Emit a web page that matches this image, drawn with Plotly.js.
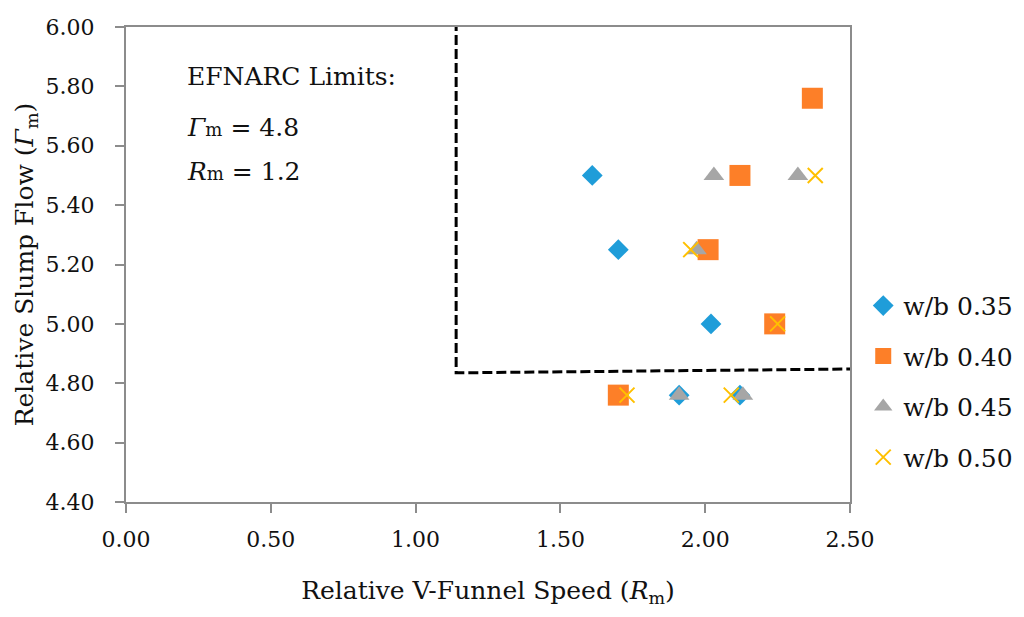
<!DOCTYPE html>
<html>
<head>
<meta charset="utf-8">
<script src="https://cdn.plot.ly/plotly-3.0.1.min.js"></script>
<style>
  html, body { margin: 0; padding: 0; background: #fff; }
  #chart { width: 1024px; height: 617px; }
</style>
</head>
<body>
<div id="chart"></div>
<script>
// relative V-funnel speed (Rm) and relative slump flow (Γm) per w/b ratio
var seriesNames = ['w/b 0.35', 'w/b 0.40', 'w/b 0.45', 'w/b 0.50'];

var rm035 = [1.61, 1.70, 2.02, 1.91, 2.12];
var gm035 = [5.50, 5.25, 5.00, 4.76, 4.76];

var rm040 = [2.37, 2.12, 2.01, 2.24, 1.70];
var gm040 = [5.76, 5.50, 5.25, 5.00, 4.76];

var rm045 = [2.03, 2.32, 1.97, 1.91, 2.13];
var gm045 = [5.50, 5.50, 5.25, 4.76, 4.76];

var rm050 = [2.38, 1.95, 2.25, 1.73, 2.09];
var gm050 = [5.50, 5.25, 5.00, 4.76, 4.76];

// EFNARC limit line (dashed)
var limitX = [1.14, 1.14, 2.51];
var limitY = [6.02, 4.835, 4.848];

var xTicks = [0, 0.5, 1.0, 1.5, 2.0, 2.5];
var yTicks = [4.4, 4.6, 4.8, 5.0, 5.2, 5.4, 5.6, 5.8, 6.0];

var serif = 'DejaVu Serif, serif';
var fs = 25;      // titles, notes, legend
var tickFs = 22;  // tick labels

var limitLine = {
  type: 'scatter', mode: 'lines',
  x: limitX, y: limitY,
  line: {color: '#000', width: 3, dash: '10px,4px'},
  showlegend: false, hoverinfo: 'skip', cliponaxis: false
};

var data = [
  limitLine,
  {type: 'scatter', mode: 'markers', name: seriesNames[0], legendgroup: 'a', x: rm035, y: gm035,
   marker: {symbol: 'diamond', size: 16, color: '#1f9dd9'}},
  {type: 'scatter', mode: 'markers', name: seriesNames[1], legendgroup: 'b', x: rm040, y: gm040,
   marker: {symbol: 'square', size: 21, color: '#fd7f28'}},
  {type: 'scatter', mode: 'markers', name: seriesNames[2], legendgroup: 'c', x: rm045, y: gm045,
   marker: {symbol: 'triangle-up', size: 18, color: '#a6a6a6'}},
  {type: 'scatter', mode: 'markers', name: seriesNames[3], legendgroup: 'd', x: rm050, y: gm050,
   marker: {symbol: 'x-thin-open', size: 15, color: '#ffc000', line: {color: '#ffc000', width: 2}}}
];

var axisStyle = {
  showgrid: false, zeroline: false,
  showline: true, linecolor: '#8c8c8c', linewidth: 2, mirror: true,
  ticks: 'outside', ticklen: 9, tickcolor: '#8c8c8c', tickwidth: 2,
  tickfont: {family: serif, size: tickFs, color: '#111'}
};

var layout = {
  width: 1024, height: 617,
  margin: {l: 126, r: 174, t: 27, b: 115},
  paper_bgcolor: '#fff', plot_bgcolor: '#fff',
  font: {family: serif, size: fs, color: '#111'},
  xaxis: Object.assign({}, axisStyle, {
    range: [0, 2.5], tickvals: xTicks, tickformat: '.2f', ticklabelstandoff: 8,
    title: {text: 'Relative V-Funnel Speed (<i>R</i><sub>m</sub>)', font: {family: serif, size: fs}, standoff: 30}
  }),
  yaxis: Object.assign({}, axisStyle, {
    range: [4.4, 6.0], tickvals: yTicks, tickformat: '.2f', ticklabelstandoff: 16,
    title: {text: 'Relative Slump Flow (<i>Γ</i><sub>m</sub>)', font: {family: serif, size: fs}, standoff: 5}
  }),
  legend: {
    xref: 'container', x: 0.843, xanchor: 'left',
    yref: 'paper', y: 0.254, yanchor: 'middle',
    font: {family: serif, size: fs, color: '#111'},
    itemwidth: 30, tracegroupgap: 15, bgcolor: 'rgba(0,0,0,0)'
  },
  annotations: [
    {xref: 'paper', yref: 'paper', x: 0.082, y: 0.895, xanchor: 'left', yanchor: 'middle',
     showarrow: false, text: 'EFNARC Limits:', font: {family: serif, size: fs, color: '#111'}},
    {xref: 'paper', yref: 'paper', x: 0.082, y: 0.789, xanchor: 'left', yanchor: 'middle',
     showarrow: false, text: '<i>Γ</i><span style="font-size:18px">m</span> = 4.8', font: {family: serif, size: fs, color: '#111'}},
    {xref: 'paper', yref: 'paper', x: 0.082, y: 0.695, xanchor: 'left', yanchor: 'middle',
     showarrow: false, text: '<i>R</i><span style="font-size:18px">m</span> = 1.2', font: {family: serif, size: fs, color: '#111'}}
  ]
};

Plotly.newPlot('chart', data, layout, {displayModeBar: false, staticPlot: true});
</script>
</body>
</html>
